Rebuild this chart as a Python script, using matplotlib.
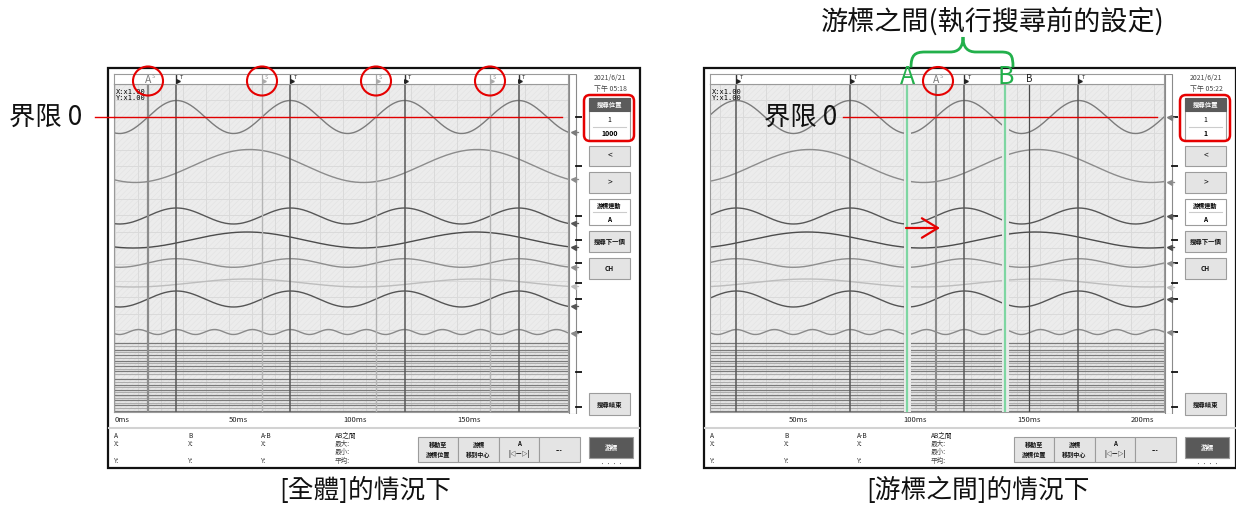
import numpy as np
import matplotlib
matplotlib.use('Agg')
import matplotlib.pyplot as plt
from matplotlib.patches import Rectangle, FancyBboxPatch, Ellipse, PathPatch
from matplotlib.path import Path

plt.rcParams['font.family'] = ['Noto Sans CJK TC', 'DejaVu Sans']
plt.rcParams['hatch.linewidth'] = 0.4

# ---- values read off the two screens ----
# analog channels: zero row on screen, amplitude (rows), frequency (Hz), time of a crest (ms)
ch_pos = [117, 166, 216, 240, 263, 283, 299, 332]
ch_amp = [16.5, 16.5, 8, 8, 4.3, 4, 8, 2.5]
ch_freq = [20, 10, 20, 10, 20, 10, 20, 60]
ch_crest = [27, 59, 27, 58, 27, 58, 27, 27]
ch_color = ['#7c7c7c', '#8c8c8c', '#575757', '#4c4c4c', '#8e8e8e', '#bdbdbd', '#555555', '#8a8a8a']

# logic channels (flat rows at the bottom)
logic_rows = [343, 345.5, 349.5, 352, 355, 357.5, 360.5, 363, 366, 368.5, 371, 373.5,
              379, 381.5, 384.5, 387, 389.5, 392, 394.5, 397.5, 400, 402.5, 405, 408, 410.5]
logic_color = ['#7a7a7a', '#adadad'] * 13
scale_ticks = ch_pos + [372, 407]

t_marks = [27, 77, 127, 177]           # T marks
s_marks = [14.5, 64.5, 114.5, 164.5]   # search hits (S)
left_range = (-0.4, 198.7)
right_range = (15.4, 214.5)
left_ticks = [0, 50, 100, 150]
right_ticks = [50, 100, 150, 200]
cursor_a_left = 14.5
cursor_a_right = 114.5
cursor_b_right = 155.3
ab_start, ab_end = 101.8, 144.7

W, H = 1236, 505
fig = plt.figure(figsize=(W / 100, H / 100), dpi=100)


def box(x, y, w, h, **kw):
    return fig.add_axes([x / W, 1 - (y + h) / H, w / W, h / H], **kw)


bg = box(0, 0, W, H)
bg.set_xlim(0, W); bg.set_ylim(H, 0); bg.axis('off')


def button(x, y, w, h, label, fc='#e4e4e4', tc='#111111', fs=4.6, bold=True):
    bg.add_patch(Rectangle((x, y), w, h, fc=fc, ec='#9c9c9c', lw=0.8, zorder=2))
    bg.text(x + w / 2, y + h / 2, label, ha='center', va='center', fontsize=fs, color=tc,
            fontweight='bold' if bold else 'normal', zorder=3, linespacing=1.5)


def panel(ox, trange, ticks, clock, count, right=False):
    bg.add_patch(Rectangle((ox + 108, 68), 532, 400, fill=False, ec='#111111', lw=1.6))
    bg.plot([ox + 109, ox + 639], [428, 428], color='#d2d2d2', lw=1.5)

    ax = box(ox + 114, 84, 454, 328)
    ax.set_facecolor('#ececec')
    ax.add_patch(Rectangle((0, 0), 1, 1, transform=ax.transAxes, fc='none', ec='#e2e2e2',
                           hatch='//////', lw=0, zorder=0.1))
    ax.set_xticks(ticks)
    ax.set_xticklabels([f'{v}ms' for v in ticks], ha='left', fontsize=5.5, color='#222222')
    ax.set_xticks(np.arange(0, 220, 10), minor=True)
    ax.set_yticks(np.arange(84, 412, 16.4)); ax.set_yticklabels([])
    ax.tick_params(which='both', length=0, pad=3)
    ax.grid(which='both', color='#dadada', lw=0.7)
    ax.set_axisbelow(True)
    for s in ax.spines.values():
        s.set_color('#9a9a9a'); s.set_linewidth(0.8)

    t = np.linspace(trange[0], trange[1], 2000)
    ends = []
    for pos, amp, f, c, col in zip(ch_pos, ch_amp, ch_freq, ch_crest, ch_color):
        y = pos - amp * np.cos(2 * np.pi * f * (t - c) / 1000)
        ax.plot(t, y, color=col, lw=1.0, zorder=2)
        ends.append(y[-1])
    for r, col in zip(logic_rows, logic_color):
        ax.axhline(r, color=col, lw=0.9, zorder=2)

    # cursor lines
    for tm in t_marks:
        ax.axvline(tm, color='#585858', lw=1.1, zorder=3)
    if right:
        ax.axvline(cursor_a_right, color='#8c8c8c', lw=1.5, zorder=3)
        ax.axvline(cursor_b_right, color='#4a4a4a', lw=0.9, zorder=3)
        for tx in (ab_start, ab_end):
            ax.axvline(tx, color='#ececec', lw=5, zorder=4)
            ax.axvline(tx, color='#7ed6a2', lw=1.6, zorder=5)
        ax.plot([73.7, 211.4], [ch_pos[0]] * 2, color='#e00000', lw=1.0, zorder=6)
    else:
        ax.axvline(cursor_a_left, color='#8c8c8c', lw=1.6, zorder=3)
        for tm in s_marks[1:]:
            ax.axvline(tm, color='#b4b4b4', lw=1.0, zorder=3)
        ax.plot([trange[0], 196], [ch_pos[0]] * 2, color='#e00000', lw=1.0, zorder=6)
    ax.set_xlim(*trange); ax.set_ylim(412, 84)

    ax.text(0.005, 0.985, 'X:x1.00\nY:x1.00', transform=ax.transAxes, va='top', ha='left',
            fontsize=5, family='DejaVu Sans Mono', linespacing=0.95, zorder=7)

    # marker strip on top
    st = box(ox + 114, 74, 454, 10)
    st.set_xticks([]); st.set_yticks([])
    for s in st.spines.values():
        s.set_color('#9a9a9a'); s.set_linewidth(0.8)
    for tm in t_marks:
        st.plot([tm, tm], [0, 1], color='#333333', lw=1.0)
        st.plot(tm + 0.7, 0.3, marker='>', ms=2.6, color='#222222')
        st.text(tm + 1.3, 0.62, 'T', fontsize=4, va='center', color='#222222')
    if right:
        hits = [cursor_a_right]
        st.text(cursor_b_right, 0.45, 'B', fontsize=7, ha='center', va='center', color='#222222')
    else:
        hits = [cursor_a_left]
        for tm in s_marks[1:]:
            st.plot([tm, tm], [0, 1], color='#aaaaaa', lw=0.9)
            st.plot(tm + 0.7, 0.3, marker='>', ms=2.6, color='#aaaaaa')
            st.text(tm + 1.3, 0.62, 'S', fontsize=4, va='center', color='#999999')
    for tm in hits:
        st.text(tm, 0.4, 'A', fontsize=7.5, ha='center', va='center', color='#7a7a7a')
        st.text(tm + 1.8, 0.7, 'S', fontsize=4, va='center', color='#999999')
    st.set_xlim(*trange); st.set_ylim(0, 1)

    # scale strip on the right
    sc = box(ox + 568, 74, 14, 340)
    sc.axis('off')
    sc.add_patch(Rectangle((0.06, 74), 0.5, 340, fc='white', ec='#8a8a8a', lw=0.8))
    for r in scale_ticks:
        sc.plot([0.56, 1.0], [r, r], color='#111111', lw=1.3)
    for e, col in zip(ends, ch_color):
        sc.plot(0.36, e, marker='<', ms=3.6, color=col)
        sc.plot([0.36, 0.7], [e, e], color=col, lw=0.9)
    sc.set_xlim(0, 1); sc.set_ylim(414, 74)

    # side controls
    cx = ox + 589
    bg.text(ox + 610, 78, '2021/6/21', ha='center', va='center', fontsize=5, color='#444444')
    bg.text(ox + 610, 89, clock, ha='center', va='center', fontsize=5, color='#444444')
    bg.add_patch(Rectangle((cx, 98), 41, 42, fc='white', ec='#9c9c9c', lw=0.8))
    bg.add_patch(Rectangle((cx, 98), 41, 13, fc='#5b5b5b', ec='#5b5b5b', lw=0.8))
    bg.text(cx + 20.5, 104.5, '搜尋位置', ha='center', va='center', fontsize=4.6,
            color='white', fontweight='bold')
    bg.text(cx + 20.5, 120, '1', ha='center', va='center', fontsize=5)
    bg.plot([cx + 4, cx + 37], [127, 127], color='#cccccc', lw=0.8)
    bg.text(cx + 20.5, 134, count, ha='center', va='center', fontsize=5, fontweight='bold')
    button(cx, 146, 41, 20, '<', fs=6, bold=False)
    button(cx, 172, 41, 21, '>', fs=6, bold=False)
    bg.add_patch(Rectangle((cx, 199), 41, 26, fc='white', ec='#9c9c9c', lw=0.8))
    bg.text(cx + 20.5, 205.5, '游標連動', ha='center', va='center', fontsize=4.4, fontweight='bold')
    bg.plot([cx + 4, cx + 37], [212, 212], color='#cccccc', lw=0.8)
    bg.text(cx + 20.5, 219.5, 'A', ha='center', va='center', fontsize=4.6, fontweight='bold')
    button(cx, 231, 41, 21, '搜尋下一個')
    button(cx, 258, 41, 21, 'CH')
    button(cx, 393, 41, 22, '搜尋結束')

    # bottom info row
    for dx, head in [(114, 'A'), (188, 'B'), (261, 'A-B')]:
        bg.text(ox + dx, 436, head, fontsize=4.8, va='center', color='#222222')
        bg.text(ox + dx, 444, 'X:', fontsize=4.8, va='center', color='#444444')
        bg.text(ox + dx, 461, 'Y:', fontsize=4.8, va='center', color='#444444')
    bg.text(ox + 335, 436, 'AB之間', fontsize=4.8, va='center', color='#222222')
    bg.text(ox + 335, 444, '最大:', fontsize=4.8, va='center', color='#444444')
    bg.text(ox + 335, 452, '最小:', fontsize=4.8, va='center', color='#444444')
    bg.text(ox + 335, 461, '平均:', fontsize=4.8, va='center', color='#444444')
    labels = ['移動至\n游標位置', '游標\n移到中心', 'A\n|◁—▷|', '---']
    edges = [418, 458, 499, 539, 580]
    for i, lab in enumerate(labels):
        button(ox + edges[i], 437, edges[i + 1] - edges[i], 25, lab, fs=4.4)
    button(ox + 589, 437, 44, 21, '游標', fc='#595959', tc='white', fs=4.8)
    bg.text(ox + 611, 464, '• • • •', ha='center', va='center', fontsize=3.5, color='#555555')


panel(0, left_range, left_ticks, '下午 05:18', '1000')
panel(596, right_range, right_ticks, '下午 05:22', '1', right=True)

# ---- annotations on top ----
fg = box(0, 0, W, H, zorder=10)
fg.set_xlim(0, W); fg.set_ylim(H, 0); fg.axis('off'); fg.patch.set_alpha(0)

red = '#e60000'
for cx in (148, 262, 376, 490):
    fg.add_patch(Ellipse((cx, 81), 30, 29, fill=False, ec=red, lw=1.5))
fg.add_patch(Ellipse((938, 81), 30, 28, fill=False, ec=red, lw=1.5))
for ox in (0, 596):
    fg.add_patch(FancyBboxPatch((ox + 584, 95), 50, 46, boxstyle='round,pad=0,rounding_size=6',
                                fill=False, ec=red, lw=1.8))

fg.text(9, 117, '界限 0', fontsize=19, va='center', ha='left', color='#111111')
fg.plot([95, 114], [117, 117], color=red, lw=1.0)
fg.text(764, 117, '界限 0', fontsize=19, va='center', ha='left', color='#111111')

fg.text(993, 21, '游標之間(執行搜尋前的設定)', fontsize=19.5, ha='center', va='center', color='#111111')
green = '#22b04b'
verts = [(911, 67.5), (911, 55), (915, 52), (925, 52), (950, 52), (958, 52), (963, 48), (963, 37),
         (963, 48), (968, 52), (976, 52), (1001, 52), (1011, 52), (1013, 55), (1013, 67.5)]
codes = [Path.MOVETO, Path.CURVE4, Path.CURVE4, Path.CURVE4, Path.LINETO,
         Path.CURVE4, Path.CURVE4, Path.CURVE4, Path.CURVE4, Path.CURVE4, Path.CURVE4,
         Path.LINETO, Path.CURVE4, Path.CURVE4, Path.CURVE4]
fg.add_patch(PathPatch(Path(verts, codes), fill=False, ec=green, lw=2))
fg.text(908, 77, 'A', fontsize=18, ha='center', va='center', color=green)
fg.text(1006, 77, 'B', fontsize=18, ha='center', va='center', color=green)

fg.annotate('', xy=(940, 228), xytext=(906, 228),
            arrowprops=dict(arrowstyle='->,head_length=1.15,head_width=0.7', color=red, lw=1.6,
                            mutation_scale=10, shrinkA=0, shrinkB=0))

fg.text(365, 490, '[全體]的情況下', fontsize=18.5, ha='center', va='center', color='#111111')
fg.text(978, 490, '[游標之間]的情況下', fontsize=18.5, ha='center', va='center', color='#111111')

fig.savefig('out.png', dpi=100)
